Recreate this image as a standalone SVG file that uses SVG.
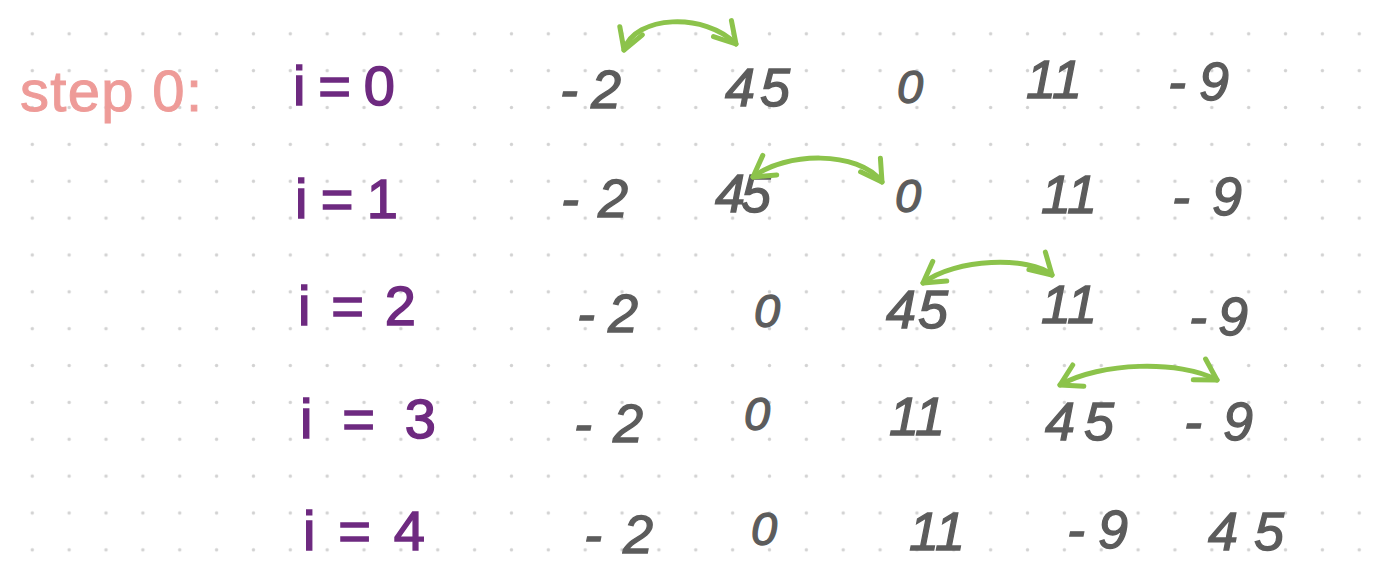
<svg xmlns="http://www.w3.org/2000/svg" width="1379" height="583" viewBox="0 0 1379 583">
  <style>
    .num { font-family: "Liberation Sans", "DejaVu Sans", sans-serif; font-size: 54px; fill: #5c5c5c; stroke: #5c5c5c; stroke-width: 1.3px; font-style: italic; }
    .zero { font-size: 47px; }
    .lbl { font-family: "Liberation Sans", "DejaVu Sans", sans-serif; font-size: 56px; fill: #6e2a80; stroke: #6e2a80; stroke-width: 1.5px; }
    .step { font-family: "Liberation Sans", "DejaVu Sans", sans-serif; font-size: 58px; fill: #ee9b98; stroke: #ee9b98; stroke-width: 1px; }
    .arrow { fill: none; stroke: #8cc34b; stroke-width: 5; stroke-linecap: round; marker-start: url(#head); marker-end: url(#head); }
  </style>
  <defs>
    <pattern id="dots" patternUnits="userSpaceOnUse" x="13.87" y="15.37" width="36.86" height="36.86">
      <circle cx="18.43" cy="18.43" r="1.7" fill="#d2d2d2"/>
    </pattern>
    <marker id="head" markerUnits="userSpaceOnUse" orient="auto-start-reverse" refX="0" refY="0" markerWidth="40" markerHeight="40" viewBox="-30 -20 40 40" overflow="visible">
      <path d="M -20 -13 L 0 0 L -21 11" fill="none" stroke="#8cc34b" stroke-width="5" stroke-linecap="round" stroke-linejoin="round"/>
    </marker>
  </defs>
  <rect width="1379" height="583" fill="#ffffff"/>
  <rect width="1379" height="583" fill="url(#dots)"/>

  <g id="title">
    <text class="step" x="20" y="111" textLength="182" lengthAdjust="spacing">step 0:</text>
  </g>

  <g id="row0">
    <text class="lbl" x="293" y="105" textLength="102" lengthAdjust="spacing">i=0</text>
    <text class="num" x="560" y="108" textLength="61" lengthAdjust="spacing">-2</text>
    <text class="num" x="725" y="106" textLength="65" lengthAdjust="spacing">45</text>
    <text class="num zero" x="897" y="103">0</text>
    <text class="num" x="1026" y="98">11</text>
    <text class="num" x="1168" y="100" textLength="61" lengthAdjust="spacing">-9</text>
  </g>
  <g id="row1">
    <text class="lbl" x="295" y="218" textLength="103" lengthAdjust="spacing">i=1</text>
    <text class="num" x="561" y="217" textLength="67" lengthAdjust="spacing">-2</text>
    <text class="num" x="715" y="212" textLength="56" lengthAdjust="spacing">45</text>
    <text class="num zero" x="895" y="212">0</text>
    <text class="num" x="1041" y="213">11</text>
    <text class="num" x="1172" y="215" textLength="70" lengthAdjust="spacing">-9</text>
  </g>
  <g id="row2">
    <text class="lbl" x="298" y="325" textLength="118" lengthAdjust="spacing">i=2</text>
    <text class="num" x="577" y="332" textLength="61" lengthAdjust="spacing">-2</text>
    <text class="num zero" x="754" y="327">0</text>
    <text class="num" x="886" y="328" textLength="62" lengthAdjust="spacing">45</text>
    <text class="num" x="1041" y="323">11</text>
    <text class="num" x="1189" y="335" textLength="59" lengthAdjust="spacing">-9</text>
  </g>
  <g id="row3">
    <text class="lbl" x="300" y="438" textLength="136" lengthAdjust="spacing">i = 3</text>
    <text class="num" x="574" y="442" textLength="69" lengthAdjust="spacing">-2</text>
    <text class="num zero" x="744" y="430">0</text>
    <text class="num" x="889" y="435">11</text>
    <text class="num" x="1045" y="440" textLength="69" lengthAdjust="spacing">45</text>
    <text class="num" x="1184" y="440" textLength="69" lengthAdjust="spacing">-9</text>
  </g>
  <g id="row4">
    <text class="lbl" x="303" y="550" textLength="122" lengthAdjust="spacing">i = 4</text>
    <text class="num" x="584" y="553" textLength="69" lengthAdjust="spacing">-2</text>
    <text class="num zero" x="751" y="545">0</text>
    <text class="num" x="909" y="550">11</text>
    <text class="num" x="1067" y="548" textLength="61" lengthAdjust="spacing">-9</text>
    <text class="num" x="1208" y="550" textLength="76" lengthAdjust="spacing">45</text>
  </g>

  <g id="connectors">
    <path class="arrow" d="M 624 50 C 635 15, 705 12, 736 44"/>
    <path class="arrow" d="M 753 177 C 785 152, 858 150, 882 182"/>
    <path class="arrow" d="M 923 283 C 955 258, 1030 256, 1052 275"/>
    <path class="arrow" d="M 1060 385 C 1100 362, 1180 360, 1217 380"/>
  </g>
</svg>
